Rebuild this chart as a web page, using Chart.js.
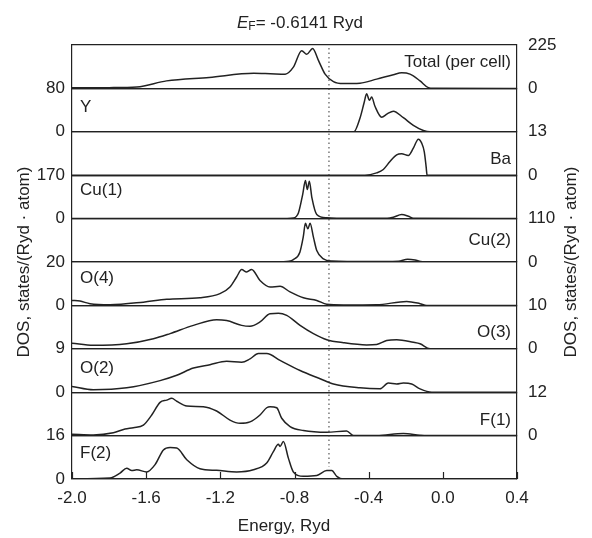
<!DOCTYPE html>
<html>
<head>
<meta charset="utf-8">
<title>DOS panels</title>
<script src="https://cdn.jsdelivr.net/npm/chart.js@4.4.1/dist/chart.umd.min.js"></script>
<style>
  html, body { margin: 0; padding: 0; background: #fff; }
</style>
</head>
<body>
<canvas id="dosChart" width="592" height="538"></canvas>
<script>
// Energy axis (Ryd)
const energyMin = -2.0;
const energyMax = 0.4;
const energyTicks = [-2.0, -1.6, -1.2, -0.8, -0.4, 0.0, 0.4];
const fermiEnergy = -0.6141;

// Panels, top to bottom
const panelNames = ['Total (per cell)', 'Y', 'Ba', 'Cu(1)', 'Cu(2)', 'O(4)', 'O(3)', 'O(2)', 'F(1)', 'F(2)'];
const panelMax = [225, 80, 13, 170, 110, 20, 10, 9, 12, 16];
const panelSide = ['right', 'left', 'right', 'left', 'right', 'left', 'right', 'left', 'right', 'left'];

// DOS curves
const totalE = [-2.0, -1.8, -1.65, -1.49, -1.26, -1.02, -0.93, -0.85, -0.806, -0.761, -0.734, -0.702, -0.671, -0.635, -0.59, -0.536, -0.447, -0.357, -0.267, -0.222, -0.177, -0.123, -0.078, -0.05, 0.4];
const totalDos = [3, 4, 7, 39, 57, 78, 76, 74, 110, 195, 177, 207, 145, 74, 35, 25, 27, 48, 71, 81, 74, 39, 4, 1, 0];

const yE = [-2.0, -0.48, -0.447, -0.425, -0.411, -0.396, -0.384, -0.366, -0.33, -0.3, -0.267, -0.213, -0.159, -0.105, -0.069, 0.4];
const yDos = [0, 0, 25, 53, 70, 58, 64, 47, 27, 33, 38, 26, 12, 2.5, 0, 0];

const baE = [-2.0, -0.42, -0.357, -0.321, -0.285, -0.249, -0.222, -0.186, -0.159, -0.132, -0.114, -0.1, -0.09, -0.085, 0.4];
const baDos = [0, 0, 0.7, 1.7, 4.1, 6.1, 6.4, 5.9, 8.1, 10.8, 9.6, 7, 2.5, 0, 0];

const cu1E = [-2.0, -0.84, -0.806, -0.779, -0.756, -0.741, -0.731, -0.72, -0.706, -0.68, -0.626, -0.5, -0.3, -0.267, -0.222, -0.186, -0.159, 0.4];
const cu1Dos = [0, 0.5, 2, 22, 94, 149, 114, 146, 81, 16, 3, 1, 1, 5, 16, 9, 1, 0];

const cu2E = [-2.0, -0.9, -0.83, -0.806, -0.771, -0.753, -0.741, -0.728, -0.716, -0.698, -0.68, -0.644, -0.599, -0.4, -0.24, -0.19, -0.15, -0.12, -0.1, 0.4];
const cu2Dos = [0, 0.5, 2, 6, 25, 63, 98, 84, 98, 63, 29, 8, 2.5, 1, 2, 7, 5, 1, 0, 0];

const o4E = [-2.0, -1.957, -1.903, -1.795, -1.615, -1.489, -1.31, -1.202, -1.148, -1.112, -1.085, -1.058, -1.031, -0.986, -0.932, -0.878, -0.824, -0.752, -0.68, -0.626, -0.536, -0.357, -0.195, -0.123, -0.087, 0.4];
const o4Dos = [2.3, 2.0, 0.8, 0.3, 1.5, 2.8, 3.5, 5.4, 8.5, 13.1, 16.5, 15.4, 16.6, 11.5, 8.5, 8.8, 6.2, 3.5, 2.3, 0.5, 0.2, 0.3, 1.8, 0.8, 0, 0];

const o3E = [-2.0, -1.885, -1.705, -1.561, -1.471, -1.345, -1.22, -1.166, -1.085, -1.04, -0.986, -0.932, -0.887, -0.842, -0.77, -0.698, -0.626, -0.536, -0.411, -0.357, -0.303, -0.249, -0.159, -0.123, -0.069, 0.4];
const o3Dos = [1.3, 0.8, 1.15, 2.3, 3.5, 5.4, 6.7, 6.5, 5.4, 5.2, 6.2, 8.1, 8.2, 7.7, 5.4, 3.5, 2.1, 1.4, 0.9, 1.0, 1.9, 2.1, 1.5, 1.15, 0, 0];

const o2E = [-2.0, -1.885, -1.705, -1.525, -1.435, -1.345, -1.256, -1.166, -1.085, -1.04, -0.995, -0.95, -0.878, -0.77, -0.662, -0.59, -0.447, -0.339, -0.294, -0.249, -0.213, -0.168, -0.123, -0.06, 0.4];
const o2Dos = [1.2, 0.5, 0.9, 2.4, 3.5, 5.0, 5.7, 6.4, 6.2, 6.9, 8.0, 8.0, 6.6, 4.5, 2.8, 1.7, 0.9, 0.7, 1.9, 1.7, 1.9, 1.7, 0.7, 0, 0];

const f1E = [-2.0, -1.885, -1.777, -1.714, -1.669, -1.615, -1.57, -1.525, -1.489, -1.462, -1.435, -1.381, -1.292, -1.22, -1.148, -1.094, -1.04, -0.986, -0.95, -0.932, -0.896, -0.869, -0.824, -0.752, -0.626, -0.519, -0.482, -0.357, -0.213, -0.123, -0.087, 0.4];
const f1Dos = [0.4, 0.2, 0.8, 1.8, 2.2, 2.9, 5.7, 9.2, 9.8, 10.3, 9.5, 8.2, 8.0, 6.8, 4.3, 3.4, 3.8, 5.7, 7.7, 8.0, 7.7, 4.8, 2.5, 1.4, 0.9, 1.3, 0, 0, 0.55, 0.1, 0, 0];

const f2E = [-2.0, -1.795, -1.741, -1.705, -1.678, -1.651, -1.597, -1.552, -1.507, -1.471, -1.435, -1.381, -1.31, -1.22, -1.112, -1.022, -0.95, -0.914, -0.887, -0.878, -0.86, -0.833, -0.806, -0.752, -0.68, -0.626, -0.599, -0.572, -0.536, 0.4];
const f2Dos = [0.1, 0.4, 2.2, 4.0, 3.1, 3.4, 2.6, 5.3, 10.7, 11.6, 11.4, 7.1, 3.8, 3.2, 2.6, 3.4, 5.9, 10.1, 12.8, 12.0, 13.8, 7.7, 2.6, 1.0, 1.3, 3.1, 3.1, 1.0, 0, 0];

const panelE = [totalE, yE, baE, cu1E, cu2E, o4E, o3E, o2E, f1E, f2E];
const panelDos = [totalDos, yDos, baDos, cu1Dos, cu2Dos, o4Dos, o3Dos, o2Dos, f1Dos, f2Dos];

// where the panel name sits, as a fraction of the panel height
const labelPos = [0.4, 0.44, 0.64, 0.35, 0.5, 0.37, 0.62, 0.44, 0.65, 0.41];

const FONT = "'Liberation Sans', Arial, Helvetica, sans-serif";
const INK = '#222';
const tickFont = { family: FONT, size: 17 };

// x axis (the inward tick marks are drawn by the plugin below)
const scales = {
    x: {
        type: 'linear',
        min: energyMin,
        max: energyMax,
        afterBuildTicks: axis => { axis.ticks = energyTicks.map(v => ({ value: v })); },
        afterFit: axis => { axis.height = 59; },
        ticks: {
            font: tickFont,
            color: INK,
            padding: 9,
            maxRotation: 0,
            autoSkip: false,
            callback: v => v.toFixed(1)
        },
        grid: { drawOnChartArea: false, drawTicks: false, color: INK, lineWidth: 1.2 },
        border: { display: true, color: INK, width: 1.2 }
    }
};

// one stacked y axis per panel on each side, labels only on one side
panelNames.forEach((name, i) => {
    const onLeft = panelSide[i] === 'left';
    const common = {
        type: 'linear',
        min: 0,
        max: panelMax[i],
        afterBuildTicks: axis => { axis.ticks = [{ value: 0 }, { value: panelMax[i] }]; },
        border: { display: true, color: INK, width: 1.2 }
    };
    scales['yl' + i] = {
        ...common,
        position: 'left',
        stack: 'left',
        stackWeight: 1,
        weight: panelNames.length - i,
        afterFit: axis => { axis.width = 35; },
        ticks: { display: onLeft, font: tickFont, color: INK, padding: 7, autoSkip: false, callback: v => String(v) },
        grid: { display: onLeft, drawTicks: false, color: INK, lineWidth: 1.2 }
    };
    scales['yr' + i] = {
        ...common,
        position: 'right',
        stack: 'right',
        stackWeight: 1,
        weight: i,
        afterFit: axis => { axis.width = 45; },
        ticks: { display: !onLeft, font: tickFont, color: INK, padding: 11, autoSkip: false, callback: v => String(v) },
        grid: { display: !onLeft, drawTicks: false, color: INK, lineWidth: 1.2 }
    };
});

const datasets = panelNames.map((name, i) => ({
    label: name,
    data: panelE[i].map((e, k) => ({ x: e, y: panelDos[i][k] })),
    yAxisID: 'yl' + i,
    borderColor: INK,
    borderWidth: 1.5,
    pointRadius: 0,
    fill: false,
    cubicInterpolationMode: 'monotone'
}));

// Fermi level, inward x ticks, panel names, header and axis titles
const dosLabels = {
    id: 'dosLabels',
    afterDatasetsDraw(chart) {
        const { ctx, chartArea, scales } = chart;
        ctx.save();

        const xF = scales.x.getPixelForValue(fermiEnergy);
        ctx.strokeStyle = '#333';
        ctx.lineWidth = 1;
        ctx.setLineDash([1.5, 3]);
        ctx.beginPath();
        ctx.moveTo(xF, chartArea.top + 3);
        ctx.lineTo(xF, chartArea.bottom - 12);
        ctx.stroke();
        ctx.setLineDash([]);

        ctx.strokeStyle = INK;
        ctx.lineWidth = 1.2;
        energyTicks.forEach(v => {
            const px = Math.round(scales.x.getPixelForValue(v)) + 0.5;
            ctx.beginPath();
            ctx.moveTo(px, chartArea.bottom);
            ctx.lineTo(px, chartArea.bottom - 7);
            ctx.stroke();
        });

        ctx.fillStyle = INK;
        ctx.textBaseline = 'middle';
        ctx.font = '17px ' + FONT;
        panelNames.forEach((name, i) => {
            const axis = scales['yl' + i];
            const y = axis.top + (axis.bottom - axis.top) * labelPos[i];
            if (panelSide[i] === 'left') {
                ctx.textAlign = 'left';
                ctx.fillText(name, chartArea.left + 8, y);
            } else {
                ctx.textAlign = 'right';
                ctx.fillText(name, chartArea.right - 6, y);
            }
        });

        // header: E_F= -0.6141 Ryd
        const rest = '= ' + fermiEnergy.toFixed(4) + ' Ryd';
        ctx.font = 'italic 17px ' + FONT;
        const wE = ctx.measureText('E').width;
        ctx.font = '12px ' + FONT;
        const wF = ctx.measureText('F').width;
        ctx.font = '17px ' + FONT;
        const wR = ctx.measureText(rest).width;
        let hx = 300 - (wE + wF + wR) / 2;
        const hy = 23;
        ctx.textAlign = 'left';
        ctx.font = 'italic 17px ' + FONT;
        ctx.fillText('E', hx, hy);
        hx += wE;
        ctx.font = '12px ' + FONT;
        ctx.fillText('F', hx, hy + 4);
        hx += wF;
        ctx.font = '17px ' + FONT;
        ctx.fillText(rest, hx, hy);

        // axis titles
        const midY = (chartArea.top + chartArea.bottom) / 2;
        const yTitle = 'DOS, states/(Ryd \u00b7 atom)';
        ctx.textAlign = 'center';
        [24, 571].forEach(tx => {
            ctx.save();
            ctx.translate(tx, midY);
            ctx.rotate(-Math.PI / 2);
            ctx.fillText(yTitle, 0, 0);
            ctx.restore();
        });
        ctx.fillText('Energy, Ryd', 284, 526);

        ctx.restore();
    }
};

document.addEventListener('DOMContentLoaded', () => {
    new Chart(document.getElementById('dosChart'), {
        type: 'line',
        data: { datasets },
        options: {
            responsive: false,
            animation: false,
            layout: { padding: { top: 45, left: 37, right: 30, bottom: 0 } },
            plugins: { legend: { display: false }, tooltip: { enabled: false }, title: { display: false } },
            scales
        },
        plugins: [dosLabels]
    });
});
</script>
</body>
</html>
